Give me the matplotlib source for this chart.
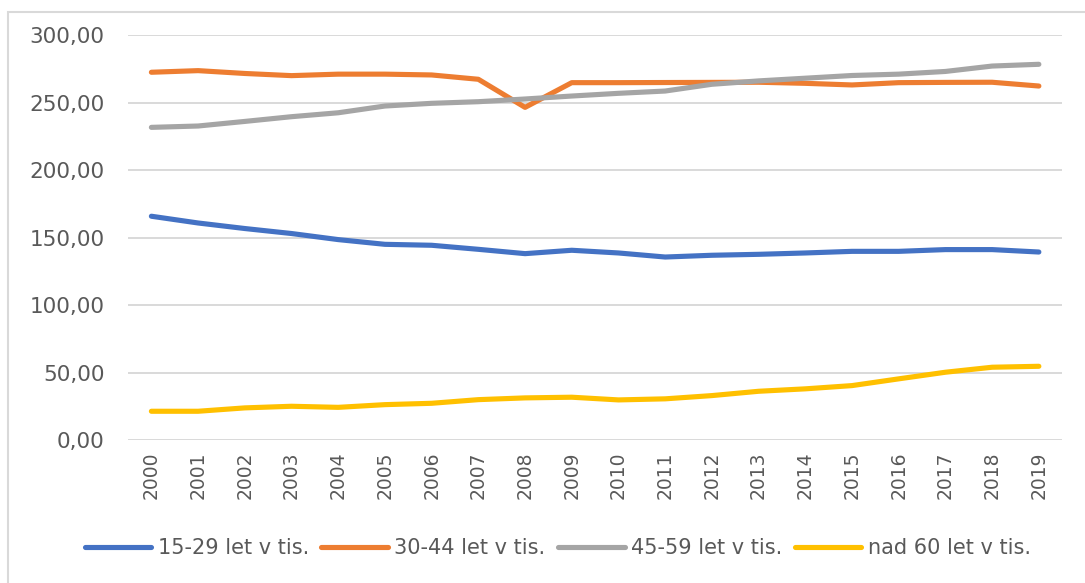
import numpy as np
import matplotlib.pyplot as plt
from matplotlib.patches import Rectangle
from matplotlib.ticker import FuncFormatter

years = [str(y) for y in range(2000, 2020)]

age_15_29 = [165.8, 160.8, 156.7, 153.0, 148.5, 145.0, 144.3, 141.3, 138.1, 140.6,
             138.6, 135.6, 136.9, 137.6, 138.6, 139.8, 139.8, 141.1, 141.1, 139.3]
age_30_44 = [272.4, 273.6, 271.5, 269.9, 271.0, 271.0, 270.4, 267.2, 246.4, 264.7,
             264.7, 264.8, 264.9, 265.0, 264.2, 263.0, 264.7, 264.9, 265.0, 262.2]
age_45_59 = [231.6, 232.6, 236.0, 239.5, 242.4, 247.4, 249.4, 250.6, 252.6, 254.8,
             256.8, 258.5, 263.5, 266.0, 268.0, 270.0, 271.0, 273.0, 277.0, 278.3]
age_60 = [21.4, 21.4, 23.9, 25.1, 24.3, 26.3, 27.3, 30.0, 31.3, 31.8,
          29.8, 30.6, 33.0, 36.2, 38.0, 40.4, 45.4, 50.3, 54.0, 54.7]

labels = ['15-29 let v tis.', '30-44 let v tis.', '45-59 let v tis.', 'nad 60 let v tis.']
colors = ['#4472C4', '#ED7D31', '#A5A5A5', '#FFC000']

fig = plt.figure(figsize=(10.85, 5.83), dpi=100)
ax = fig.add_axes([0.118, 0.245, 0.861, 0.695])

x = np.arange(len(years))
for vals, lab, col in zip([age_15_29, age_30_44, age_45_59, age_60], labels, colors):
    ax.plot(x, vals, color=col, lw=3.7, label=lab, solid_capstyle='round')

ax.set_xlim(-0.5, len(years) - 0.5)
ax.set_ylim(0, 300)
ax.set_yticks(np.arange(0, 301, 50))
ax.yaxis.set_major_formatter(FuncFormatter(lambda v, p: ('%.2f' % v).replace('.', ',')))
ax.set_xticks(x)
ax.set_xticklabels(years, rotation=90)
ax.grid(axis='y', color='#D9D9D9', lw=1.4)
ax.set_axisbelow(True)
for s in ax.spines.values():
    s.set_visible(False)
ax.tick_params(axis='both', length=0, colors='#595959')
ax.tick_params(axis='y', labelsize=15.5, pad=17)
ax.tick_params(axis='x', labelsize=13.5, pad=8)

leg = fig.legend(loc='center', bbox_to_anchor=(0.514, 0.06), ncol=4, frameon=False,
                 handlelength=3.2, handletextpad=0.3, columnspacing=0.6,
                 prop={'size': 15})
for t in leg.get_texts():
    t.set_color('#595959')

# chart border (Excel style frame, cut off at right and bottom)
fig.patches.append(Rectangle((8 / 1085, -0.1), 1.2, (583 - 12) / 583 + 0.1, transform=fig.transFigure,
                             fill=False, edgecolor='#D9D9D9', lw=1.5))

fig.savefig('out.png', dpi=100)
